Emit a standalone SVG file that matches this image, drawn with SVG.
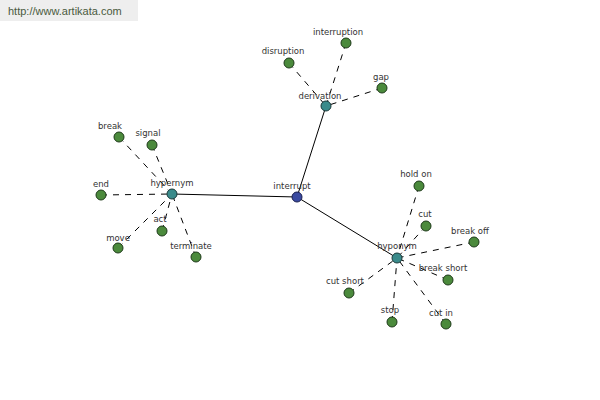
<svg xmlns="http://www.w3.org/2000/svg" width="600" height="400" viewBox="0 0 600 400">
<style>
text{font-family:"DejaVu Sans","Liberation Sans",sans-serif;font-size:8.5px;fill:#333;text-anchor:middle}
.solid{stroke:#000;stroke-width:1;fill:none}
.dash{stroke:#000;stroke-width:1;fill:none;stroke-dasharray:6,6}
.leaf{fill:#4b8a3c;stroke:#1e3a1a;stroke-width:1}
.mid{fill:#3a8b8b;stroke:#1a3a3a;stroke-width:1}
.root{fill:#3a4aa0;stroke:#1a1f50;stroke-width:1}
</style>
<rect width="600" height="400" fill="#fff"/>
<rect x="0" y="0" width="138" height="21" fill="#eeeeee"/>
<text x="8" y="15" style="text-anchor:start;font-family:'Liberation Sans',Arial,sans-serif;font-size:11px;fill:#4a5a40">http://www.artikata.com</text>
<g id="connectors">
<line class="solid" x1="297" y1="197" x2="326" y2="106"/>
<line class="solid" x1="297" y1="197" x2="172" y2="194"/>
<line class="solid" x1="297" y1="197" x2="397" y2="258"/>
<line class="dash" x1="289" y1="63" x2="326" y2="106"/>
<line class="dash" x1="346" y1="43" x2="326" y2="106"/>
<line class="dash" x1="382" y1="88" x2="326" y2="106"/>
<line class="dash" x1="119" y1="137" x2="172" y2="194"/>
<line class="dash" x1="152" y1="145" x2="172" y2="194"/>
<line class="dash" x1="101" y1="195" x2="172" y2="194"/>
<line class="dash" x1="162" y1="231" x2="172" y2="194"/>
<line class="dash" x1="118" y1="248" x2="172" y2="194"/>
<line class="dash" x1="196" y1="257" x2="172" y2="194"/>
<line class="dash" x1="419" y1="186" x2="397" y2="258"/>
<line class="dash" x1="426" y1="226" x2="397" y2="258"/>
<line class="dash" x1="474" y1="242" x2="397" y2="258"/>
<line class="dash" x1="448" y1="280" x2="397" y2="258"/>
<line class="dash" x1="349" y1="293" x2="397" y2="258"/>
<line class="dash" x1="392" y1="322" x2="397" y2="258"/>
<line class="dash" x1="446" y1="324" x2="397" y2="258"/>
</g>
<g id="interrupt"><circle class="root" cx="297" cy="197" r="5"/><text x="292" y="189">interrupt</text></g>
<g id="derivation"><circle class="mid" cx="326" cy="106" r="5"/><text x="320" y="99">derivation</text></g>
<g id="hypernym"><circle class="mid" cx="172" cy="194" r="5"/><text x="172" y="186">hypernym</text></g>
<g id="hyponym"><circle class="mid" cx="397" cy="258" r="5"/><text x="397" y="249">hyponym</text></g>
<g id="disruption"><circle class="leaf" cx="289" cy="63" r="5"/><text x="283" y="54">disruption</text></g>
<g id="interruption"><circle class="leaf" cx="346" cy="43" r="5"/><text x="338" y="35">interruption</text></g>
<g id="gap"><circle class="leaf" cx="382" cy="88" r="5"/><text x="381" y="80">gap</text></g>
<g id="break"><circle class="leaf" cx="119" cy="137" r="5"/><text x="110" y="129">break</text></g>
<g id="signal"><circle class="leaf" cx="152" cy="145" r="5"/><text x="148" y="136">signal</text></g>
<g id="end"><circle class="leaf" cx="101" cy="195" r="5"/><text x="101" y="187">end</text></g>
<g id="act"><circle class="leaf" cx="162" cy="231" r="5"/><text x="160" y="222">act</text></g>
<g id="move"><circle class="leaf" cx="118" cy="248" r="5"/><text x="118" y="241">move</text></g>
<g id="terminate"><circle class="leaf" cx="196" cy="257" r="5"/><text x="191" y="249">terminate</text></g>
<g id="hold-on"><circle class="leaf" cx="419" cy="186" r="5"/><text x="416" y="177">hold on</text></g>
<g id="cut"><circle class="leaf" cx="426" cy="226" r="5"/><text x="425" y="217">cut</text></g>
<g id="break-off"><circle class="leaf" cx="474" cy="242" r="5"/><text x="470" y="234">break off</text></g>
<g id="break-short"><circle class="leaf" cx="448" cy="280" r="5"/><text x="443" y="271">break short</text></g>
<g id="cut-short"><circle class="leaf" cx="349" cy="293" r="5"/><text x="345" y="284">cut short</text></g>
<g id="stop"><circle class="leaf" cx="392" cy="322" r="5"/><text x="390" y="313">stop</text></g>
<g id="cut-in"><circle class="leaf" cx="446" cy="324" r="5"/><text x="441" y="316">cut in</text></g>
</svg>
